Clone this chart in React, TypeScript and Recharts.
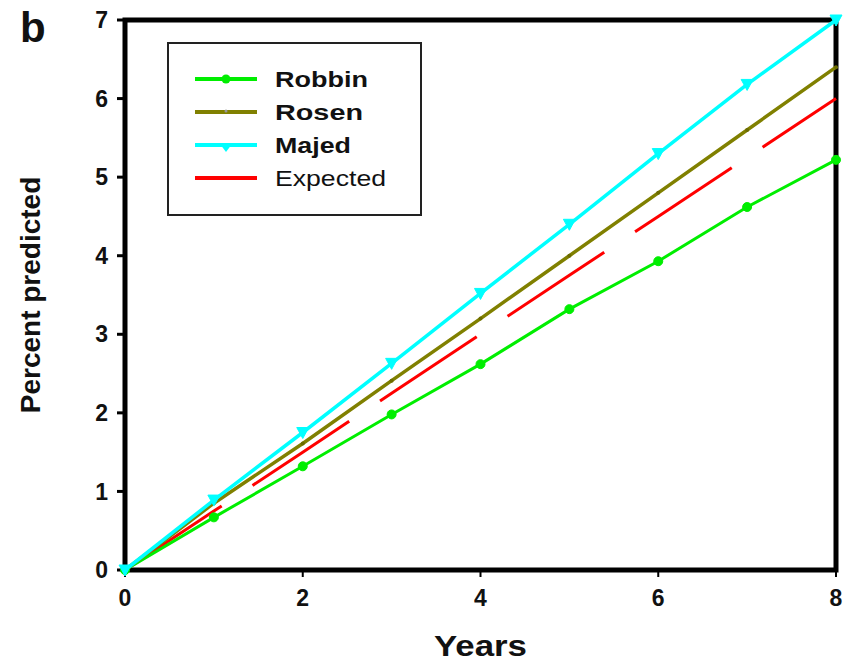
import { LineChart, Line, XAxis, YAxis, ReferenceArea, Legend } from 'recharts'

const years = [0, 1, 2, 3, 4, 5, 6, 7, 8]
const robbin = [0, 0.67, 1.32, 1.98, 2.62, 3.32, 3.93, 4.62, 5.22]
const rosen = [0, 0.85, 1.61, 2.41, 3.2, 4.0, 4.8, 5.6, 6.4]
const majed = [0, 0.89, 1.75, 2.63, 3.52, 4.4, 5.3, 6.18, 7.0]
const expected = [0, 0.75, 1.5, 2.25, 3.0, 3.75, 4.5, 5.25, 6.0]

const xTicks = [0, 2, 4, 6, 8]
const yTicks = [0, 1, 2, 3, 4, 5, 6, 7]

const FONT = '"Liberation Sans", Arial, Helvetica, sans-serif'

const GREEN = '#00ee00'
const OLIVE = '#808000'
const CYAN = '#00ffff'
const RED = '#ff0000'

const chartData = years.map((y, i) => ({
  year: y,
  robbin: robbin[i],
  rosen: rosen[i],
  majed: majed[i],
  expected: expected[i],
}))

// down-pointing triangle used for the Majed series
function TriangleDot(props: any) {
  const { cx, cy, index } = props
  if (cx == null || cy == null) return null
  return (
    <path
      key={`tri-${index}`}
      d={`M${cx - 6},${cy - 5} L${cx + 6},${cy - 5} L${cx},${cy + 6} Z`}
      fill={CYAN}
      stroke={CYAN}
    />
  )
}

const legendItems = [
  { name: 'Robbin', color: GREEN, marker: 'circle', bold: true, len: 93 },
  { name: 'Rosen', color: OLIVE, marker: 'dot', bold: true, len: 88 },
  { name: 'Majed', color: CYAN, marker: 'tri', bold: true, len: 76 },
  { name: 'Expected', color: RED, marker: 'none', bold: false, len: 111 },
]

function LegendBox() {
  return (
    <svg width={256} height={175} style={{ display: 'block' }}>
      <rect x={1} y={1} width={253} height={172} fill="#fff" stroke="#222" strokeWidth={2} />
      {legendItems.map((it, i) => {
        const y = 37 + i * 33
        return (
          <g key={it.name}>
            <line x1={28} x2={90} y1={y} y2={y} stroke={it.color} strokeWidth={4} />
            {it.marker === 'circle' && <circle cx={59} cy={y} r={4.5} fill={it.color} />}
            {it.marker === 'dot' && <circle cx={59} cy={y - 1} r={1.5} fill="#999" />}
            {it.marker === 'tri' && (
              <path d={`M53,${y - 1} L65,${y - 1} L59,${y + 7} Z`} fill={it.color} />
            )}
            <text
              x={108}
              y={y + 8}
              fontFamily={FONT}
              fontSize={22}
              fontWeight={it.bold ? 'bold' : 'normal'}
              fill="#111"
              textLength={it.len}
              lengthAdjust="spacingAndGlyphs"
            >
              {it.name}
            </text>
          </g>
        )
      })}
    </svg>
  )
}

function YearsLabel(props: any) {
  const vb = props.viewBox || {}
  const cx = (vb.x ?? 125) + (vb.width ?? 711) / 2
  return (
    <text
      x={cx}
      y={656}
      textAnchor="middle"
      fontFamily={FONT}
      fontSize={30}
      fontWeight="bold"
      fill="#111"
      textLength={93}
      lengthAdjust="spacingAndGlyphs"
    >
      Years
    </text>
  )
}

export default function App() {
  return (
    <div style={{ position: 'absolute', left: 0, top: 0, width: 854, height: 662, background: '#fff' }}>
      <div
        style={{
          position: 'absolute',
          left: 20,
          top: 4,
          fontFamily: FONT,
          fontWeight: 'bold',
          fontSize: 42,
          color: '#111',
          lineHeight: '48px',
        }}
      >
        b
      </div>
      <LineChart
        width={854}
        height={662}
        data={chartData}
        margin={{ top: 20, right: 18, left: 0, bottom: 0 }}
      >
        <XAxis
          dataKey="year"
          type="number"
          domain={[0, 8]}
          ticks={xTicks}
          axisLine={false}
          tickLine={{ stroke: '#000', strokeWidth: 2 }}
          tickSize={7}
          tickMargin={13}
          height={92}
          tick={{ fontFamily: FONT, fontSize: 23, fontWeight: 'bold', fill: '#111' }}
          label={<YearsLabel />}
        />
        <YAxis
          type="number"
          domain={[0, 7]}
          ticks={yTicks}
          axisLine={false}
          tickLine={{ stroke: '#000', strokeWidth: 3 }}
          tickSize={8}
          tickMargin={9}
          width={125}
          tick={{ fontFamily: FONT, fontSize: 23, fontWeight: 'bold', fill: '#111' }}
          label={{
            value: 'Percent predicted',
            angle: -90,
            position: 'insideLeft',
            offset: 30,
            style: { fontFamily: FONT, fontSize: 28, fontWeight: 'bold', fill: '#111', textAnchor: 'middle' },
          }}
        />
        <ReferenceArea x1={0} x2={8} y1={0} y2={7} fill="none" stroke="#000" strokeWidth={5} ifOverflow="visible" />
        <Legend
          layout="vertical"
          align="center"
          verticalAlign="middle"
          content={() => <LegendBox />}
          wrapperStyle={{ position: 'absolute', left: 167, top: 42, width: 256, height: 175 }}
        />
        <Line
          dataKey="expected"
          stroke={RED}
          strokeWidth={3}
          strokeDasharray="116 37"
          dot={false}
          isAnimationActive={false}
        />
        <Line
          dataKey="robbin"
          stroke={GREEN}
          strokeWidth={3}
          dot={{ r: 4.5, fill: GREEN, stroke: GREEN, strokeWidth: 1 }}
          isAnimationActive={false}
        />
        <Line
          dataKey="rosen"
          stroke={OLIVE}
          strokeWidth={3.5}
          dot={{ r: 2, fill: '#6b6b00', stroke: 'none' }}
          isAnimationActive={false}
        />
        <Line
          dataKey="majed"
          stroke={CYAN}
          strokeWidth={3.5}
          dot={<TriangleDot />}
          isAnimationActive={false}
        />
      </LineChart>
    </div>
  )
}
